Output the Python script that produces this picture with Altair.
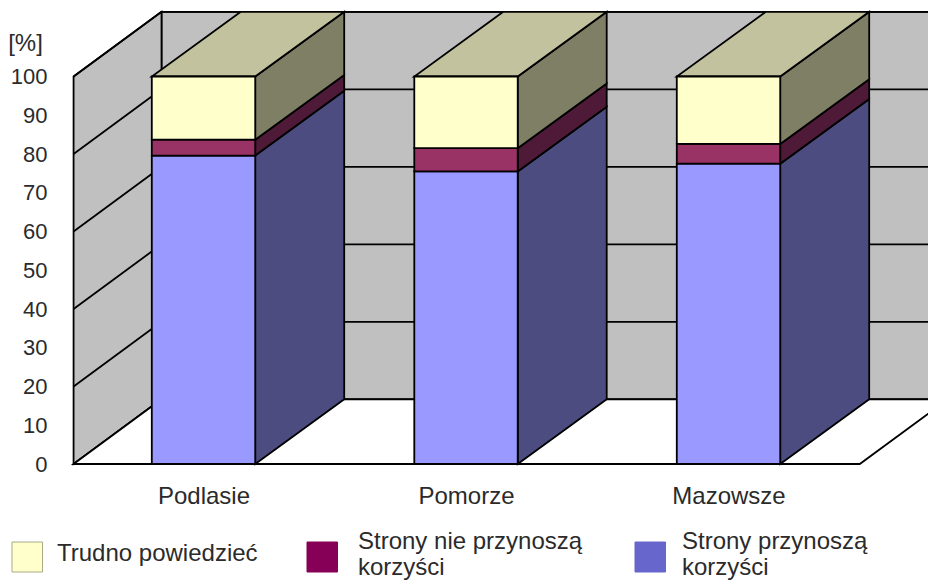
import json
import altair as alt
import pandas as pd

CATEGORIES = ["Podlasie", "Pomorze", "Mazowsze"]
SERIES = ["Trudno powiedzieć", "Strony nie przynoszą|korzyści", "Strony przynoszą|korzyści"]
YES = [79.6, 75.5, 77.5]
NO = [4.1, 6.0, 5.1]
HARD = [16.3, 18.5, 17.4]
TICKS = list(range(0, 101, 10))
GRID = list(range(0, 101, 20))

FRONT = ["#9999ff", "#993366", "#ffffcc"]
SIDE = ["#4c4c80", "#4e1a38", "#7f7f66"]
TOP = "#c2c29e"
SWATCH = ["#ffffcc", "#870057", "#6666cc"]
SWATCH_STROKE = ["#aaaa88", "#870057", "#6666cc"]
WALL = "#c0c0c0"
TEXT = "#2b2b2b"
FONT = "Liberation Sans"
LW = 1.8

HALF = 0.197
DX = 0.339
WDX = 0.335
DY = 16.7
X0, X1 = -0.495, 2.5

# page-pixel to data-unit helpers, used only for placing the legend
ux = lambda px: (px - 203.5) / 262.5
vy = lambda py: (464 - py) / 3.875

faces, sides, tops = [], [], []
for i, cat in enumerate(CATEGORIES):
    base = 0.0
    for j, vals in enumerate([YES, NO, HARD]):
        t = base + vals[i]
        key = f"{i}-{j}"
        faces.append(dict(x=i - HALF, x2=i + HALF, y=base, y2=t, c=FRONT[j]))
        for k in (0, 1):
            sides.append(dict(k=key, x=i + HALF + k * DX, y=base + k * DY, y2=t + k * DY, c=SIDE[j]))
        base = t
    top = base
    for k in (0, 1):
        tops.append(dict(k=str(i), x=i - HALF + k * DX, x2=i + HALF + k * DX, y=top + k * DY))

x_s = alt.Scale(domain=[-0.5848, 2.7600], range=[0, 878], nice=False, zero=False)
y_s = alt.Scale(domain=[0, 456 / 3.875], range=[456, 0], nice=False, zero=False)
x_axis = alt.Axis(
    values=[0, 1, 2], domain=False, ticks=False, grid=False, labelPadding=20, title=None,
    labelFont=FONT, labelFontSize=24, labelColor=TEXT,
    labelExpr=json.dumps(CATEGORIES) + "[datum.value]")
y_axis = alt.Axis(
    values=TICKS, domain=False, ticks=False, grid=False, labelPadding=3,
    labelFont=FONT, labelFontSize=22, labelColor=TEXT,
    title="[%]", titleAngle=0, titleX=-25, titleY=35, titleAlign="center",
    titleBaseline="middle", titleFont=FONT, titleFontSize=24,
    titleFontWeight="normal", titleColor=TEXT)
X = lambda: alt.X("x:Q", scale=x_s, axis=x_axis)
Y = lambda: alt.Y("y:Q", scale=y_s, axis=y_axis)

wall = alt.Chart(pd.DataFrame([dict(x=X0 + WDX, x2=X1 + WDX + 1, y=DY, y2=100 + DY)])).mark_rect(
    fill=WALL, stroke="black", strokeWidth=LW
).encode(x=X(), x2="x2:Q", y=Y(), y2="y2:Q")
left = alt.Chart(pd.DataFrame([dict(x=X0, y=0, y2=100), dict(x=X0 + WDX, y=DY, y2=100 + DY)])).mark_area(
    fill=WALL, stroke="black", strokeWidth=LW
).encode(x=X(), y=Y(), y2="y2:Q")
grid_back = alt.Chart(pd.DataFrame([dict(x=X0 + WDX, x2=X1 + WDX + 1, y=g + DY) for g in GRID])).mark_rule(
    color="black", strokeWidth=LW
).encode(x=X(), x2="x2:Q", y=Y())
grid_left = alt.Chart(pd.DataFrame(
    [dict(g=g, x=X0 + k * WDX, y=g + k * DY) for g in GRID for k in (0, 1)]
)).mark_line(color="black", strokeWidth=LW).encode(x=X(), y=Y(), detail="g:N")
floor = alt.Chart(pd.DataFrame([dict(y=0, x=X0, x2=X1), dict(y=DY, x=X0 + WDX, x2=X1 + WDX)])).mark_area(
    orient="horizontal", fill="white", stroke="black", strokeWidth=LW
).encode(x=X(), x2="x2:Q", y=Y())

side = alt.Chart(pd.DataFrame(sides)).mark_area(stroke="black", strokeWidth=LW).encode(
    x=X(), y=Y(), y2="y2:Q", detail="k:N", fill=alt.Fill("c:N", scale=None)
)
topf = alt.Chart(pd.DataFrame(tops)).mark_area(
    orient="horizontal", fill=TOP, stroke="black", strokeWidth=LW
).encode(x=X(), x2="x2:Q", y=Y(), detail="k:N")
front = alt.Chart(pd.DataFrame(faces)).mark_rect(stroke="black", strokeWidth=LW).encode(
    x=X(), x2="x2:Q", y=Y(), y2="y2:Q", fill=alt.Fill("c:N", scale=None)
)

# legend
SW_X = [12, 307, 635]
TX_X = [57, 358, 682]
TX_Y = [561, 549, 549]
leg_sw = alt.Chart(pd.DataFrame([
    dict(x=ux(a), x2=ux(a + 30.5), y=vy(572), y2=vy(542), c=SWATCH[i], s=SWATCH_STROKE[i])
    for i, a in enumerate(SW_X)
])).mark_rect(strokeWidth=1).encode(
    x=X(), x2="x2:Q", y=Y(), y2="y2:Q",
    fill=alt.Fill("c:N", scale=None), stroke=alt.Stroke("s:N", scale=None),
)
leg_tx = alt.Chart(pd.DataFrame([
    dict(x=ux(a), y=vy(TX_Y[i]), t=SERIES[i]) for i, a in enumerate(TX_X)
])).mark_text(
    align="left", baseline="alphabetic", font=FONT, fontSize=24, color=TEXT,
    lineBreak="|", lineHeight=26,
).encode(x=X(), y=Y(), text="t:N")

chart = alt.layer(wall, left, grid_back, grid_left, floor, side, topf, front, leg_sw, leg_tx).properties(
    width=878, height=456,
    padding={"left": 42, "top": 0, "right": 0, "bottom": 116},
    autosize=alt.AutoSizeParams(type="none"),
    background="white",
).configure_view(stroke=None)

chart.save("out.html", embed_options={"renderer": "svg", "actions": False})
